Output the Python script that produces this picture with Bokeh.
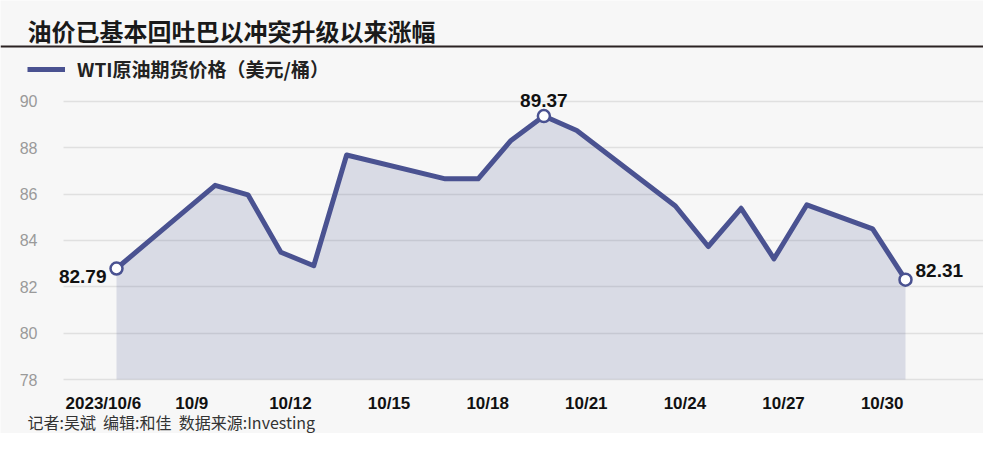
import pandas as pd
from bokeh.plotting import figure
from bokeh.models import (Range1d, FixedTicker, Span, Label, Legend, LegendItem,
                          ColumnDataSource, LinearAxis, BoxAnnotation)
from bokeh.embed import file_html
from bokeh.resources import INLINE
from bokeh.core.properties import value

# ---------------- data ----------------
title_text = "油价已基本回吐巴以冲突升级以来涨幅"
series_name = "WTI原油期货价格（美元/桶）"
footer_text = "记者:吴斌 \u00a0编辑:和佳 \u00a0数据来源:Investing"

dates = ["2023-10-06", "2023-10-09", "2023-10-10", "2023-10-11", "2023-10-12",
         "2023-10-13", "2023-10-16", "2023-10-17", "2023-10-18", "2023-10-19",
         "2023-10-20", "2023-10-23", "2023-10-24", "2023-10-25", "2023-10-26",
         "2023-10-27", "2023-10-29", "2023-10-30"]
prices = [82.79, 86.38, 85.97, 83.49, 82.91, 87.69, 86.66, 86.66, 88.32, 89.37,
          88.75, 85.49, 83.74, 85.39, 83.21, 85.54, 84.50, 82.31]

tick_dates = ["2023-10-06", "2023-10-09", "2023-10-12", "2023-10-15", "2023-10-18",
              "2023-10-21", "2023-10-24", "2023-10-27", "2023-10-30"]
tick_labels = ["2023/10/6", "10/9", "10/12", "10/15", "10/18", "10/21", "10/24", "10/27", "10/30"]
y_ticks = [78, 80, 82, 84, 86, 88, 90]

# ---------------- styles / layout constants ----------------
BG = "#f7f7f7"
BLUE = "#4a5291"
CJK = "Noto Sans CJK SC"
NUM = "Liberation Sans"
W, H = 983, 433

# pixel geometry (canvas pixels, measured from top-left)
PX_DAY = 32.875          # pixels per day
X_FIRST = 116            # x of first date
PX_UNIT = 23.17          # pixels per price unit
Y_BASE = 379             # y of lowest tick (78)
PLOT_LEFT = 63           # where the grid starts
PLOT_BOTTOM = 381        # where x labels hang from

t0 = pd.Timestamp(dates[0])
day = [(pd.Timestamp(d) - t0).days for d in dates]
tick_day = [(pd.Timestamp(d) - t0).days for d in tick_dates]
label_shift = [-0.40] + [-0.71] * (len(tick_day) - 1)
tick_pos = [round(d + s, 3) for d, s in zip(tick_day, label_shift)]

x_start = -X_FIRST / PX_DAY
x_end = x_start + W / PX_DAY
y_start = y_ticks[0] - (H - Y_BASE) / PX_UNIT
y_end = y_start + H / PX_UNIT
x_left_grid = x_start + PLOT_LEFT / PX_DAY
y_axis_at = y_ticks[0] - (PLOT_BOTTOM - Y_BASE) / PX_UNIT

p = figure(width=W, height=H, output_backend="svg", toolbar_location=None,
           x_range=Range1d(x_start, x_end), y_range=Range1d(y_start, y_end),
           x_axis_location=None, y_axis_location=None, min_border=0)
p.background_fill_color = BG
p.border_fill_color = BG
p.outline_line_color = None

# grid
p.xgrid.visible = False
p.ygrid.ticker = FixedTicker(ticks=y_ticks)
p.ygrid.grid_line_color = "#e0e0e0"
p.ygrid.grid_line_width = 1.5
try:
    p.ygrid.cross_bounds = (x_left_grid, x_end)
except Exception:
    p.add_layout(BoxAnnotation(left=x_start, right=x_left_grid, fill_color=BG, fill_alpha=1,
                               line_color=None, level="underlay"))

# series
src = ColumnDataSource(dict(x=day, y=prices))
p.varea(x="x", y1=y_ticks[0], y2="y", source=src, fill_color=BLUE, fill_alpha=0.17)
line_r = p.line("x", "y", source=src, line_color=BLUE, line_width=5, line_join="round")

i_max = prices.index(max(prices))
idx = [0, i_max, len(prices) - 1]
mk = ColumnDataSource(dict(x=[day[i] for i in idx], y=[prices[i] for i in idx]))
p.scatter("x", "y", source=mk, size=12, fill_color="white", line_color=BLUE, line_width=2.5)

def lab(i, align, baseline, xo, yo):
    s = ColumnDataSource(dict(x=[day[i]], y=[prices[i]], t=[f"{prices[i]:.2f}"]))
    p.text("x", "y", text="t", source=s, text_font=value(NUM), text_font_style="bold",
           text_font_size="19px", text_color="#111111", text_align=align,
           text_baseline=baseline, x_offset=xo, y_offset=yo)

lab(0, "right", "middle", -10, 8)
lab(i_max, "center", "bottom", 0, -9)
lab(len(prices) - 1, "left", "middle", 10, -9)

# axes (fixed inside the canvas)
xaxis = LinearAxis(fixed_location=y_axis_at, ticker=FixedTicker(ticks=tick_pos))
xaxis.major_label_overrides = {t: l for t, l in zip(tick_pos, tick_labels)}
xaxis.major_label_text_font = NUM
xaxis.major_label_text_font_style = "bold"
xaxis.major_label_text_font_size = "17px"
xaxis.major_label_text_color = "#111111"
xaxis.major_label_standoff = 6
p.add_layout(xaxis, "below")

yaxis = LinearAxis(fixed_location=x_left_grid, ticker=FixedTicker(ticks=y_ticks))
yaxis.major_label_text_font = NUM
yaxis.major_label_text_font_size = "16px"
yaxis.major_label_text_color = "#9a9a9a"
yaxis.major_label_standoff = 20
p.add_layout(yaxis, "left")

for ax in (xaxis, yaxis):
    ax.axis_line_color = None
    ax.major_tick_line_color = None
    ax.minor_tick_line_color = None

# header: title, rule, legend
p.add_layout(Label(x=27, y=H - 30, x_units="screen", y_units="screen", text=title_text,
                   text_font=CJK, text_font_size="24px", text_font_style="bold",
                   text_color="#1a1a1a", text_baseline="middle"))
p.add_layout(Span(location=H - 46, location_units="screen", dimension="width",
                  line_color="#2b2222", line_width=2))
legend = Legend(items=[LegendItem(label=series_name, renderers=[line_r])],
                location=(27, H - 82), orientation="horizontal",
                label_text_font=CJK, label_text_font_size="19px", label_text_font_style="bold",
                label_text_color="#222222", glyph_width=38, glyph_height=22,
                label_standoff=12, padding=0, margin=0, border_line_color=None,
                background_fill_alpha=0)
p.add_layout(legend)

# footer
p.add_layout(Label(x=27, y=12, x_units="screen", y_units="screen", text=footer_text,
                   text_font=CJK, text_font_size="16px", text_color="#333333",
                   text_baseline="middle"))

open("out.html", "w").write(file_html(p, INLINE))
